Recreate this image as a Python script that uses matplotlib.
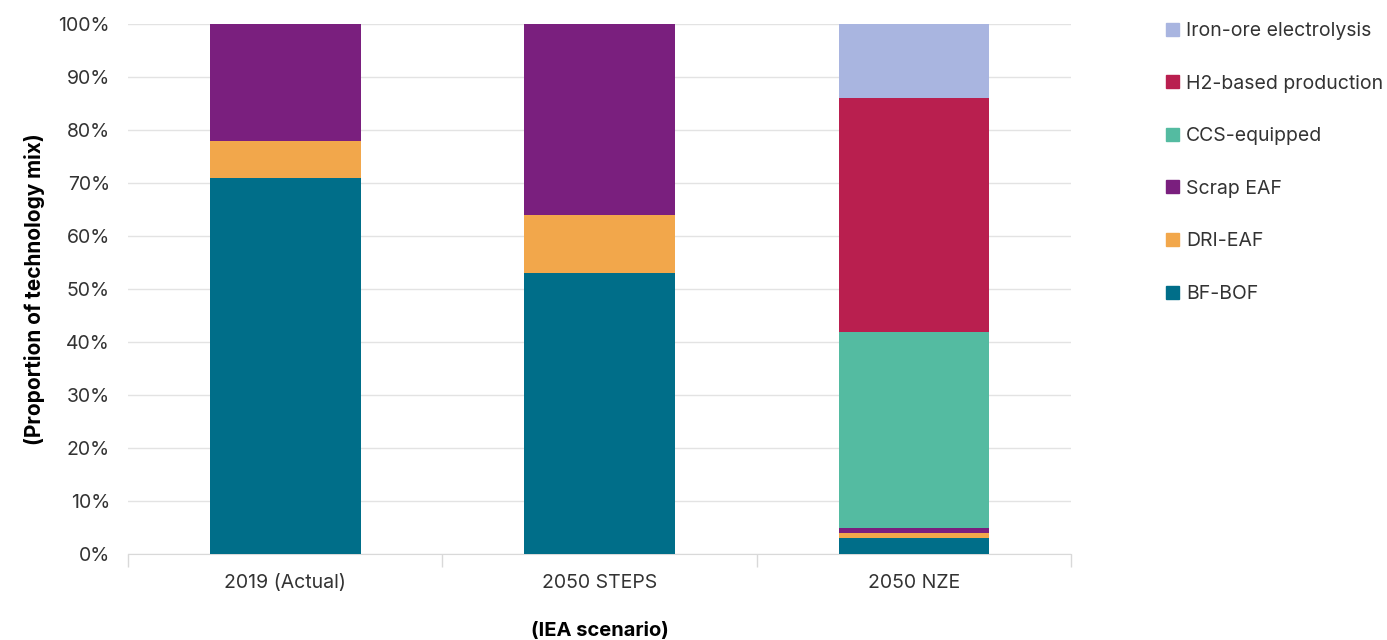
import matplotlib.pyplot as plt
import numpy as np
from matplotlib.patches import Patch
from matplotlib.ticker import PercentFormatter

plt.rcParams['font.family'] = ['Inter', 'DejaVu Sans']

scenarios = ['2019 (Actual)', '2050 STEPS', '2050 NZE']
technologies = ['BF-BOF', 'DRI-EAF', 'Scrap EAF', 'CCS-equipped',
                'H2-based production', 'Iron-ore electrolysis']
bf_bof = [71, 53, 3]
dri_eaf = [7, 11, 1]
scrap_eaf = [22, 36, 1]
ccs = [0, 0, 37]
h2_based = [0, 0, 44]
iron_ore = [0, 0, 14]
colors = ['#006e89', '#f2a74b', '#7a1f7e', '#54bba1', '#b91f4f', '#a9b5e0']

series = [bf_bof, dri_eaf, scrap_eaf, ccs, h2_based, iron_ore]

fig = plt.figure(figsize=(13.87, 6.4), dpi=100)
ax = fig.add_axes([0.0923, 0.134, 0.6800, 0.8285])

x = np.arange(len(scenarios))
bottom = np.zeros(len(scenarios))
for vals, col, name in zip(series, colors, technologies):
    ax.bar(x, vals, bottom=bottom, width=0.48, color=col, label=name, zorder=3)
    bottom += np.array(vals)

ax.set_xlim(-0.5, len(scenarios) - 0.5)
ax.set_ylim(0, 100)
ax.set_yticks(np.arange(0, 101, 10))
ax.yaxis.set_major_formatter(PercentFormatter(decimals=0))
ax.grid(axis='y', color='#e3e3e3', linewidth=1, zorder=0)

ax.set_xticks(x)
ax.set_xticklabels(scenarios)
ax.set_xticks(np.arange(-0.5, len(scenarios)), minor=True)
ax.tick_params(axis='x', which='major', length=0, pad=14)
ax.tick_params(axis='x', which='minor', length=9, color='#d9d9d9', width=1)
ax.tick_params(axis='y', length=0, pad=13)
ax.tick_params(labelsize=14, labelcolor='#333333')

for s in ['top', 'right', 'left']:
    ax.spines[s].set_visible(False)
ax.spines['bottom'].set_color('#d9d9d9')

ax.set_ylabel('(Proportion of technology mix)', fontsize=15, fontweight='bold', labelpad=10)
ax.set_xlabel('(IEA scenario)', fontsize=14.5, fontweight='bold', labelpad=22)

handles = [Patch(color=c, label=t) for c, t in zip(colors, technologies)][::-1]
fig.legend(handles=handles, loc='upper left', bbox_to_anchor=(0.828, 0.993),
           frameon=False, fontsize=14, handlelength=0.65, handleheight=0.65,
           handletextpad=0.4, labelspacing=1.78, labelcolor='#333333')

fig.savefig('out.png', dpi=100)
